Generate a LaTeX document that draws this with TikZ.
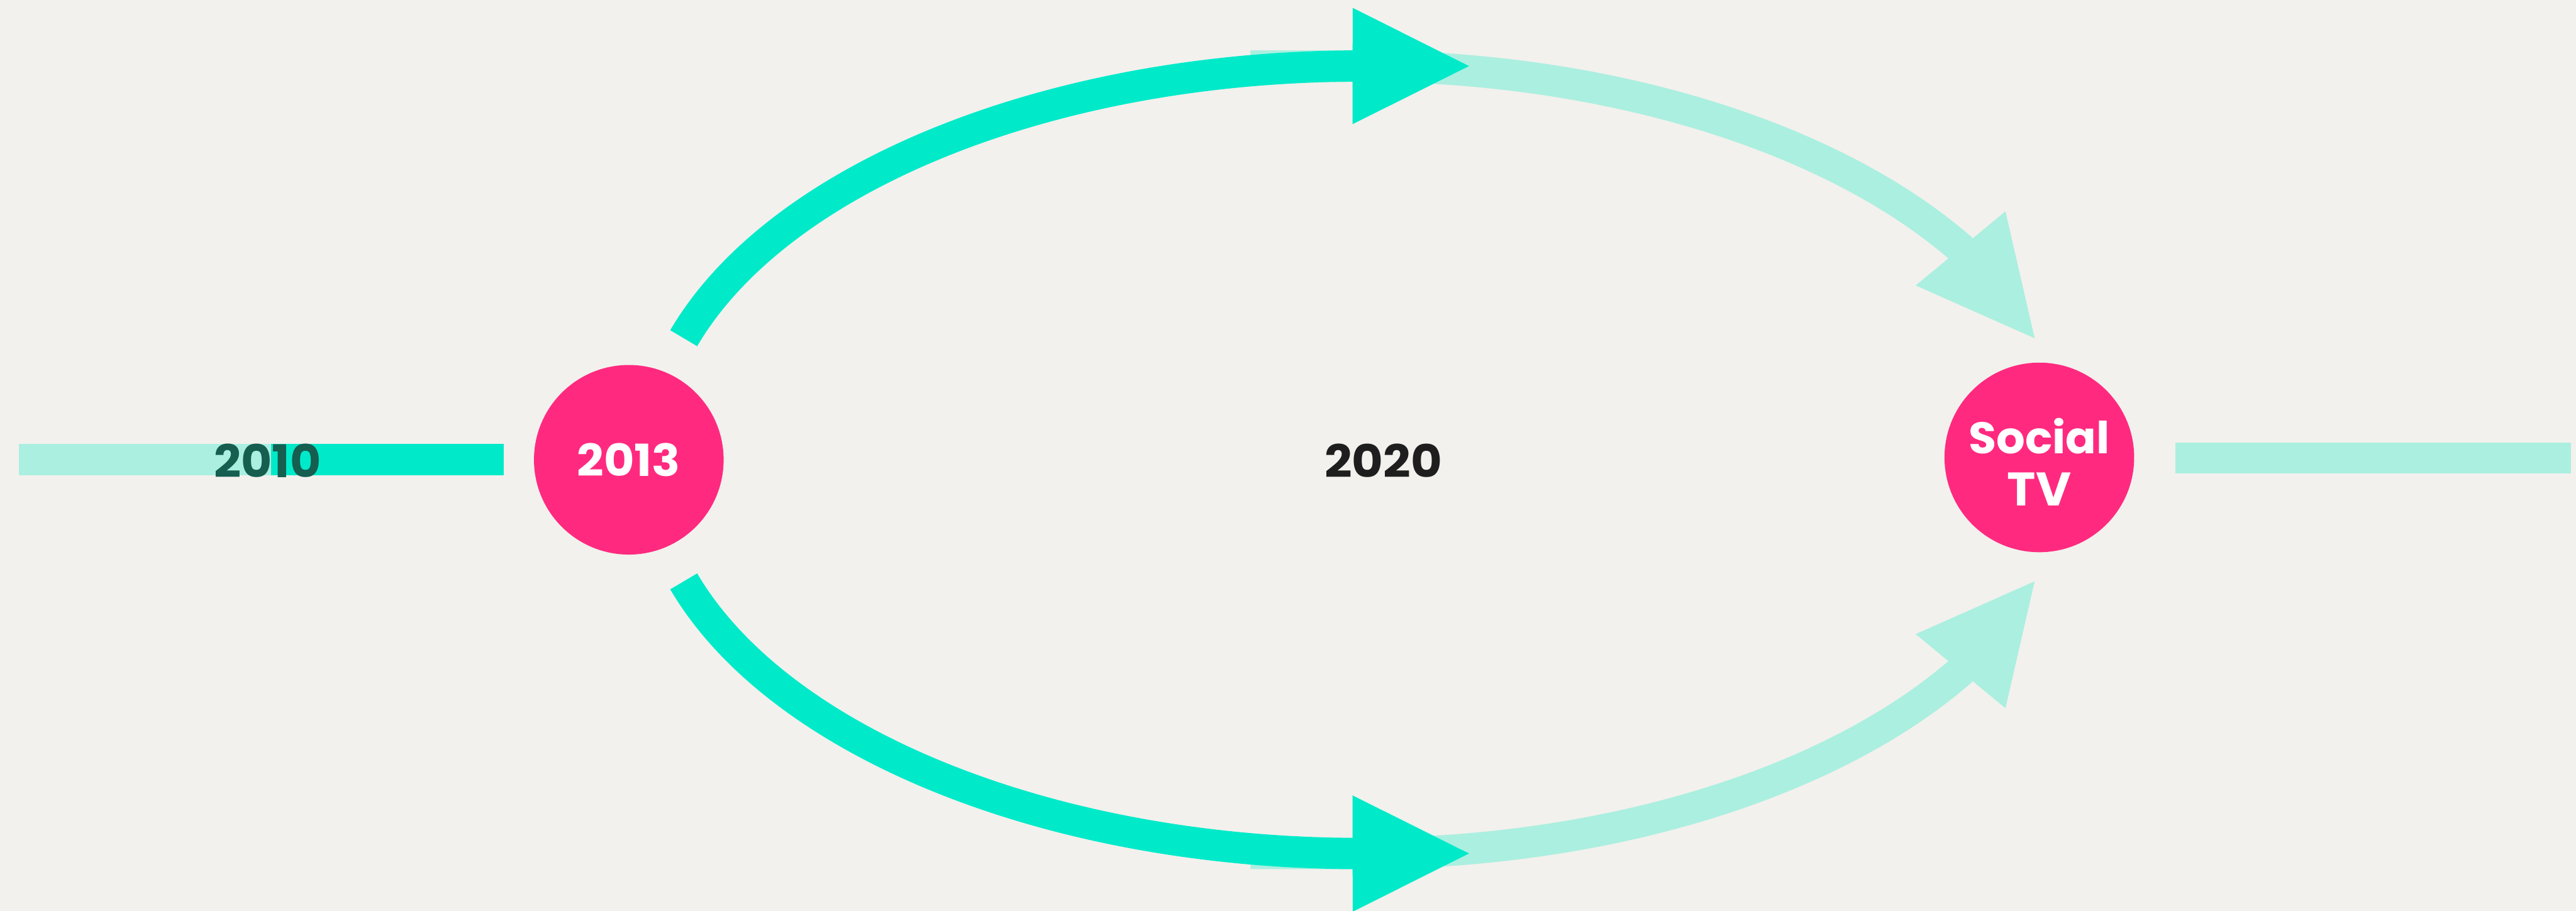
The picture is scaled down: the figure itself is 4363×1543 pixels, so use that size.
\documentclass[tikz,border=0pt]{standalone}
\usepackage{fontspec}
\usepackage{xcolor}
\usepackage{graphicx}
\usepackage{tikz}
\usetikzlibrary{arrows.meta}

\newfontfamily\yearfont{Poppins}
\newcommand{\fitlabel}[3]{\resizebox{#1}{#2}{#3}}
\definecolor{bgpaper}{HTML}{F2F1ED}
\definecolor{brightteal}{HTML}{00EACA}
\definecolor{paleteal}{HTML}{ABEFE0}
\definecolor{hotpink}{HTML}{FF2A7F}
\definecolor{darkink}{HTML}{1E1E1E}
\definecolor{darkteal}{HTML}{155E50}

\begin{document}
\begin{tikzpicture}[
    x=0.01cm, y=0.01cm,
    dot/.style={circle, fill=hotpink, minimum size=3.21cm, inner sep=0pt, text=white, align=center, font=\yearfont\bfseries\fontsize{23}{25}\selectfont},
    year/.style={inner sep=0pt, text=#1, align=center, font=\yearfont\bfseries\fontsize{23}{25}\selectfont},
    year/.default=darkink,
    band/.style={draw=#1, line width=0.53cm},
    flow/.style={draw=#1, line width=0.53cm, -{Triangle[length=1.97cm, width=1.97cm, line width=0pt]}},
    halfellipse/.style={x radius=12.05cm, y radius=6.67cm},
]
% Paper
\fill[bgpaper] (0,0) rectangle (4363,1543);
\useasboundingbox (0,0) rectangle (4363,1543);

% Milestones
\node[dot] (y2013) at (1065,764) {\fitlabel{1.75cm}{0.56cm}{2013}};
\node[dot] (social) at (3454,768) {};
\node[year=white, yshift=-0.08cm] (socialtv) at (social) {\fitlabel{2.39cm}{0.60cm}{Social}\\\fitlabel{1.08cm}{0.56cm}{TV}};
\node[year] (y2020) at (2343,763) {\fitlabel{1.99cm}{0.57cm}{2020}};

% Timeline bands
\coordinate (leftEnd) at (32,764);
\coordinate (leftMid) at (459,764);
\coordinate (leftIn) at (853,764);
\coordinate (rightIn) at (3684,767);
\coordinate (rightEnd) at (4354,767);

\draw[band=paleteal] (leftEnd) -- (leftMid);
\draw[band=brightteal] (leftMid) -- (leftIn);
\draw[band=paleteal] (rightIn) -- (rightEnd);
\node[year=darkteal] (y2010) at (453,763) {\fitlabel{1.81cm}{0.57cm}{2010}};

% Arc end points
\coordinate (upFrom) at (1158,970);
\coordinate (upTop) at (2304,1431);
\coordinate (upTip) at (2488,1431);
\coordinate (upPale) at (2118,1431);
\coordinate (upTo) at (3446,970);
\coordinate (lowFrom) at (1158,558);
\coordinate (lowBottom) at (2304,97);
\coordinate (lowTip) at (2488,97);
\coordinate (lowPale) at (2118,97);
\coordinate (lowTo) at (3446,558);

% Pale arcs into Social TV
\draw[flow=paleteal] (upPale) -- (upTop) arc[halfellipse, start angle=90, end angle=32.6] -- (upTo);
\draw[flow=paleteal] (lowPale) -- (lowBottom) arc[halfellipse, start angle=270, end angle=327.4] -- (lowTo);

% Bright arcs out of 2013
\draw[flow=brightteal] (upFrom) arc[halfellipse, start angle=162, end angle=90] -- (upTip);
\draw[flow=brightteal] (lowFrom) arc[halfellipse, start angle=198, end angle=270] -- (lowTip);

\end{tikzpicture}
\end{document}
